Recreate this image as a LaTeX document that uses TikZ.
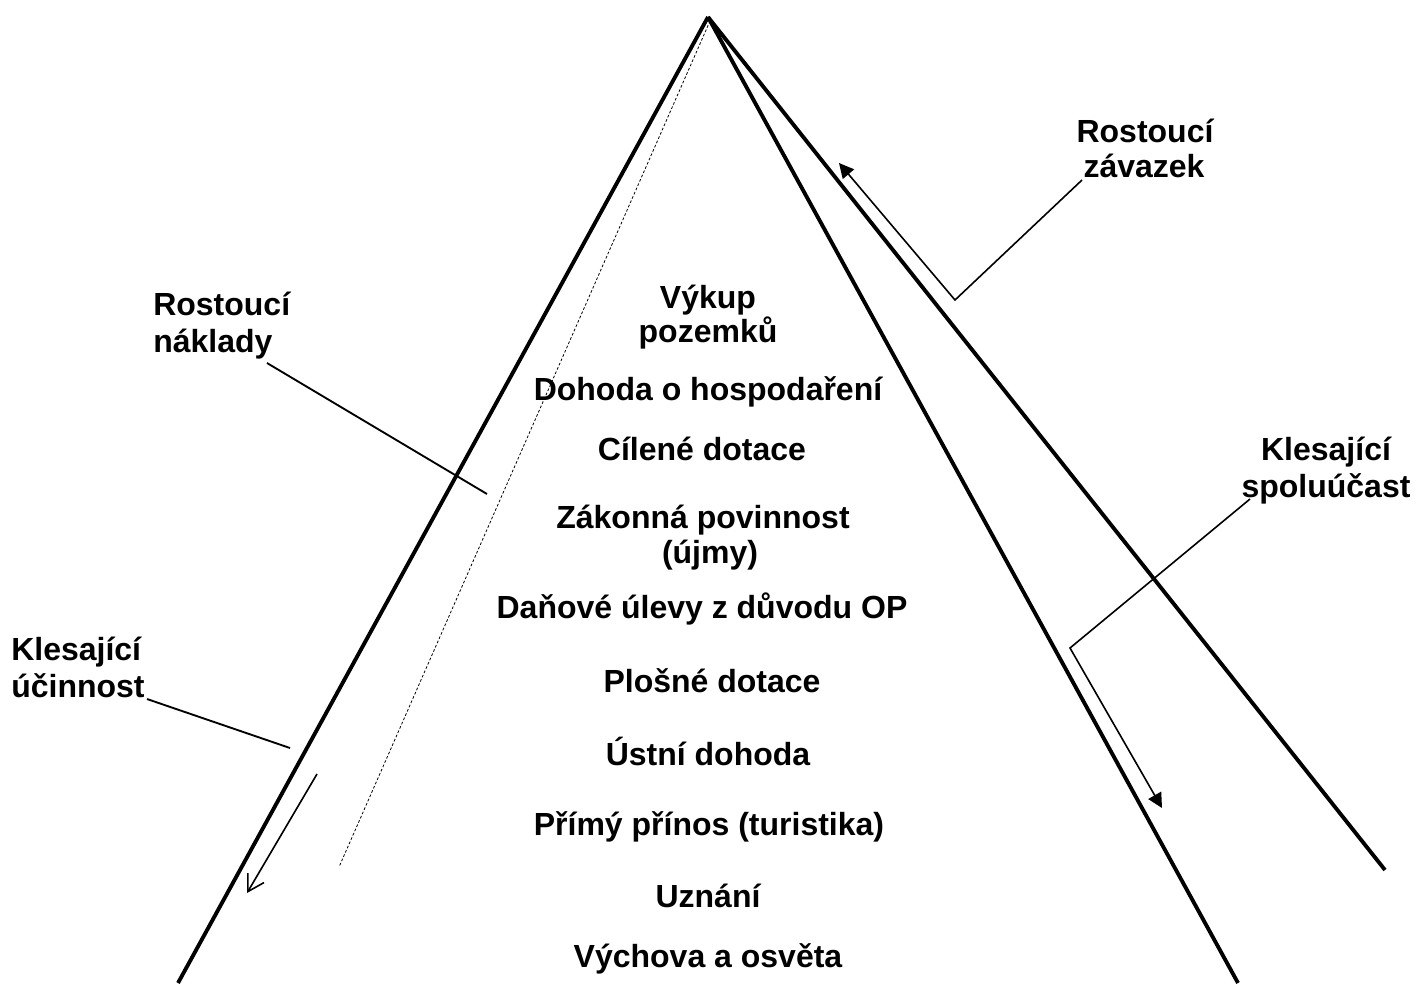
\documentclass[tikz,border=0pt]{standalone}
\usepackage{fontspec}
\setmainfont{Liberation Sans}
\usetikzlibrary{arrows.meta}
\tikzset{
  lbl/.style={font=\bfseries\fontsize{24}{27}\selectfont, inner sep=0pt, anchor=base},
  lblw/.style={lbl, anchor=base west},
  side/.style={line width=2.9pt},
  lead/.style={line width=1.4pt},
  arr/.style={line width=1.2pt},
  dots/.style={line width=0.6pt, dash pattern=on 2pt off 1.5pt},
  filltip/.style={-{Triangle[length=11pt,width=11pt]}},
  opentip/.style={-{Straight Barb[length=12pt,width=14pt,line width=1.2pt]}}
}
\begin{document}
\begin{tikzpicture}[x=0.75pt,y=-0.75pt]
\useasboundingbox (0,0) rectangle (1416,983);
\fill[white] (0,0) rectangle (1416,983);

% pyramid lines
\coordinate (apex) at (708,17);
\coordinate (lbot) at (178,983);
\coordinate (mbot) at (1238,983);
\coordinate (rbot) at (1385,870);
\coordinate (dtop) at (710,21);
\coordinate (dbot) at (339,867);
\draw[side] (apex) -- (lbot);
\draw[side] (apex) -- (mbot);
\draw[side] (apex) -- (rbot);
\draw[dots] (dtop) -- (dbot);

% central labels
\node[lbl] (t1a) at (708,308) {Výkup};
\node[lbl] (t1b) at (708,342) {pozemků};
\node[lbl] (t2) at (708,400) {Dohoda o hospodaření};
\node[lbl] (t3) at (702,460) {Cílené dotace};
\node[lbl] (t4a) at (703,528) {Zákonná povinnost};
\node[lbl] (t4b) at (710,563) {(újmy)};
\node[lbl] (t5) at (702,618) {Daňové úlevy z důvodu OP};
\node[lbl] (t6) at (712,692) {Plošné dotace};
\node[lbl] (t7) at (708,765) {Ústní dohoda};
\node[lbl] (t8) at (709,835) {Přímý přínos (turistika)};
\node[lbl] (t9) at (708,907) {Uznání};
\node[lbl] (t10) at (708,967) {Výchova a osvěta};

% side labels
\node[lbl] (za) at (1145,142) {Rostoucí};
\node[lbl] (zb) at (1144,177) {závazek};
\node[lblw] (na) at (153,315) {Rostoucí};
\node[lblw] (nb) at (153,352) {náklady};
\node[lbl] (sa) at (1326,460) {Klesající};
\node[lbl] (sb) at (1326,497) {spoluúčast};
\node[lblw] (ua) at (11,660) {Klesající};
\node[lblw] (ub) at (11,697) {účinnost};

% leader + arrow: Rostoucí závazek
\coordinate (z0) at (1082,180);
\coordinate (z1) at (955,300);
\coordinate (z2) at (839,163);
\draw[arr, filltip] (z0) -- (z1) -- (z2);

% leader + arrow: Klesající spoluúčast
\coordinate (s0) at (1250,499);
\coordinate (s1) at (1070,648);
\coordinate (s2) at (1162,808);
\draw[arr, filltip] (s0) -- (s1) -- (s2);

% leader: Rostoucí náklady
\coordinate (n0) at (267,363);
\coordinate (n1) at (487,494);
\draw[lead] (n0) -- (n1);

% leader: Klesající účinnost
\coordinate (u0) at (147,699);
\coordinate (u1) at (290,748);
\draw[lead] (u0) -- (u1);

% arrow down along left side
\coordinate (a0) at (317,774);
\coordinate (a1) at (247,893);
\draw[arr, opentip] (a0) -- (a1);
\end{tikzpicture}
\end{document}
